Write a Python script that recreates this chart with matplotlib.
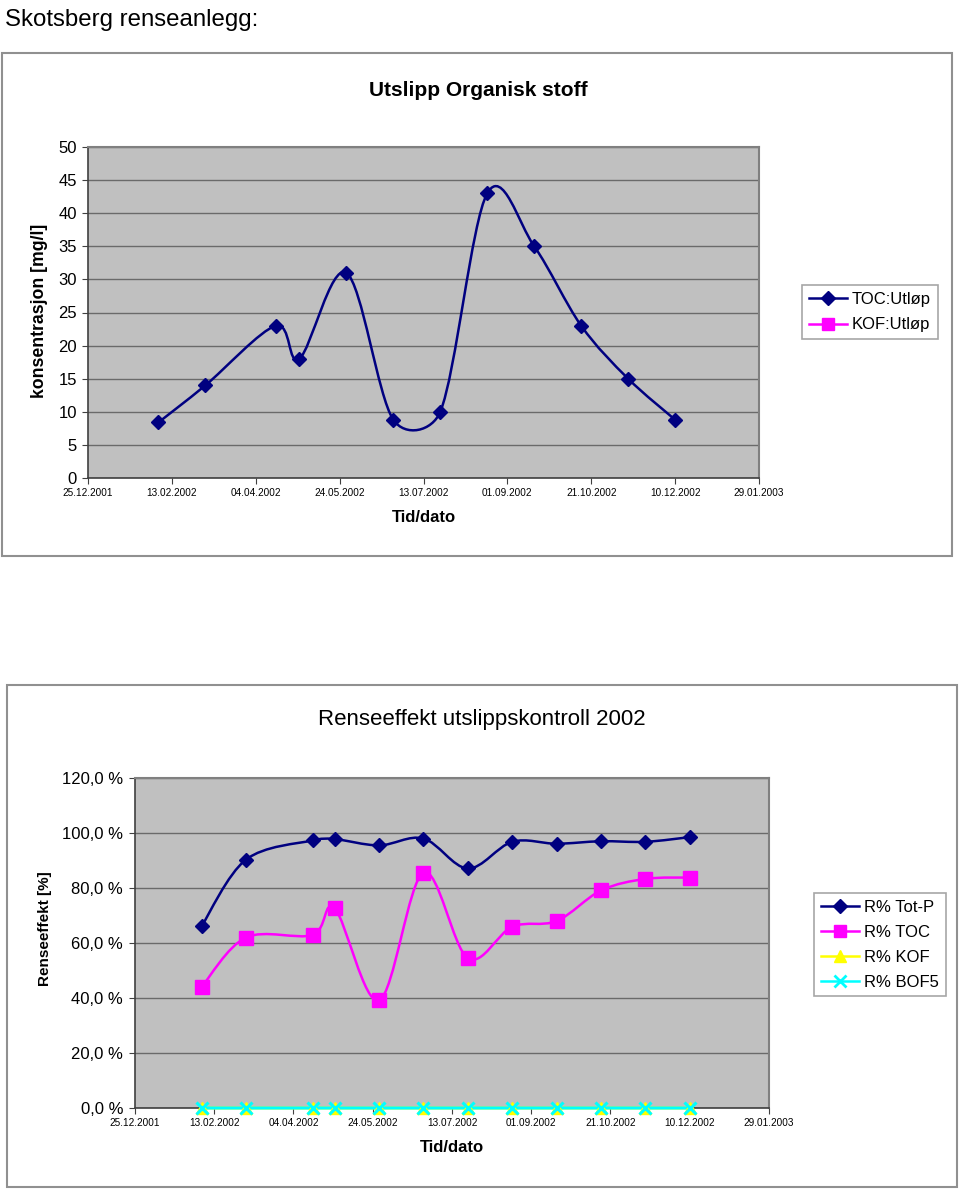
import matplotlib
matplotlib.use("Agg")
import matplotlib.pyplot as plt
import matplotlib.dates as mdates
from matplotlib.path import Path
from matplotlib.patches import PathPatch, Rectangle
from matplotlib.lines import Line2D
import numpy as np
import datetime as dt

plt.rcParams['font.family'] = ['Liberation Sans', 'DejaVu Sans']

# ---------------- data ----------------
dates = ["2002-02-05", "2002-03-05", "2002-04-16", "2002-04-30", "2002-05-28",
         "2002-06-25", "2002-07-23", "2002-08-20", "2002-09-17", "2002-10-15",
         "2002-11-12", "2002-12-10"]
toc_utlop = [8.4, 14.0, 23.0, 18.0, 31.0, 8.8, 10.0, 43.0, 35.0, 23.0, 15.0, 8.8]

r_totp = [66.1, 90.3, 97.3, 97.8, 95.5, 98.0, 87.1, 96.8, 96.1, 97.0, 96.8, 98.5]
r_toc = [44.0, 62.0, 62.9, 72.6, 39.1, 85.6, 54.5, 65.9, 68.0, 79.1, 83.3, 83.8]
r_kof = [0.0] * 12
r_bof5 = [0.0] * 12

tick_dates = ["2001-12-25", "2002-02-13", "2002-04-04", "2002-05-24", "2002-07-13",
              "2002-09-01", "2002-10-21", "2002-12-10", "2003-01-29"]
top_yticks = [0, 5, 10, 15, 20, 25, 30, 35, 40, 45, 50]
bot_yticks = [0, 20, 40, 60, 80, 100, 120]

NAVY = "#000080"
MAGENTA = "#FF00FF"
YELLOW = "#FFFF00"
CYAN = "#00FFFF"
PLOTBG = "#C0C0C0"

xd = mdates.date2num([dt.datetime.strptime(d, "%Y-%m-%d") for d in dates])
xt = mdates.date2num([dt.datetime.strptime(d, "%Y-%m-%d") for d in tick_dates])
xtl = [dt.datetime.strptime(d, "%Y-%m-%d").strftime("%d.%m.%Y") for d in tick_dates]


def _clamp(v, limit):
    ln = np.hypot(*v)
    if ln > limit and ln > 0:
        return v * (limit / ln)
    return v


def smooth_path(ax, x, y, r=0.45):
    # Excel-like smoothing: Catmull-Rom Bezier segments in screen space,
    # with control-arm length limited relative to the segment length.
    pts = ax.transData.transform(np.column_stack([x, y]).astype(float))
    n = len(pts)
    verts = [pts[0]]
    codes = [Path.MOVETO]
    for i in range(n - 1):
        p0 = pts[i - 1] if i > 0 else pts[i]
        p1 = pts[i]
        p2 = pts[i + 1]
        p3 = pts[i + 2] if i + 2 < n else pts[i + 1]
        d12 = np.hypot(*(p2 - p1))
        t1 = _clamp((p2 - p0) / 6.0, r * d12)
        t2 = _clamp((p3 - p1) / 6.0, r * d12)
        verts += [p1 + t1, p2 - t2, p2]
        codes += [Path.CURVE4] * 3
    verts = ax.transData.inverted().transform(np.array(verts))
    return Path(verts, codes)


def add_smooth(ax, x, y, color, lw=1.8, z=2):
    patch = PathPatch(smooth_path(ax, x, y), facecolor='none', edgecolor=color,
                      lw=lw, transform=ax.transData, zorder=z, clip_on=False)
    ax.add_patch(patch)


W, H = 960, 1191
fig = plt.figure(figsize=(W / 100, H / 100), dpi=100)


def fx(px):
    return px / W


def fy(py):
    return 1 - py / H


# page title
fig.text(fx(5), fy(20), "Skotsberg renseanlegg:", fontsize=17.3, ha='left', va='center')

# outer chart frames
for (x0, y0, x1, y1) in [(2, 53, 952, 556), (7, 685, 957, 1187)]:
    fig.add_artist(Rectangle((fx(x0), fy(y1)), fx(x1 - x0), (y1 - y0) / H,
                             transform=fig.transFigure, facecolor='white',
                             edgecolor='#909090', lw=1.5, zorder=0))


def style_axes(ax):
    ax.set_facecolor(PLOTBG)
    for s in ['top', 'right']:
        ax.spines[s].set_color('#808080')
        ax.spines[s].set_linewidth(1.5)
    for s in ['left', 'bottom']:
        ax.spines[s].set_color('#404040')
        ax.spines[s].set_linewidth(1.2)
    ax.grid(axis='y', color='#6a6a6a', lw=1.0)
    ax.set_axisbelow(True)
    ax.set_xlim(xt[0], xt[-1])
    ax.set_xticks(xt)
    ax.set_xticklabels(xtl, fontsize=7.2)
    ax.tick_params(axis='x', length=4, color='#404040', pad=3)
    ax.tick_params(axis='y', length=4, color='#404040', pad=4)


# ---------------- top chart ----------------
ax1 = fig.add_axes([fx(88), fy(478), fx(759 - 88), (478 - 147) / H])
style_axes(ax1)
ax1.set_ylim(0, 50)
ax1.set_yticks(top_yticks)
ax1.set_yticklabels([str(v) for v in top_yticks], fontsize=12)
add_smooth(ax1, xd, toc_utlop, NAVY)
ax1.plot(xd, toc_utlop, linestyle='none', marker='D', markersize=7.5,
         color=NAVY, zorder=3, clip_on=False)
ax1.set_ylabel("konsentrasjon [mg/l]", fontsize=12.7, fontweight='bold')
ax1.yaxis.set_label_coords((40 - 88) / 671, (478 - 311) / 331)
ax1.yaxis.label.set_va('center')
ax1.set_xlabel("Tid/dato", fontsize=12, fontweight='bold')
ax1.xaxis.set_label_coords(0.5, -(517 - 478) / 331)
ax1.xaxis.label.set_va('center')
fig.text(fx(478), fy(90), "Utslipp Organisk stoff", fontsize=15,
         fontweight='bold', ha='center', va='center')

h1 = [Line2D([], [], color=NAVY, lw=1.8, marker='D', markersize=7.5),
      Line2D([], [], color=MAGENTA, lw=1.8, marker='s', markersize=8.5)]
leg1 = fig.legend(h1, ["TOC:Utløp", "KOF:Utløp"], loc='upper left',
                  bbox_to_anchor=(fx(802), fy(285)), borderaxespad=0,
                  fontsize=12, frameon=True, fancybox=False, numpoints=1,
                  handlelength=2.3, handletextpad=0.3, borderpad=0.4,
                  labelspacing=0.65)
leg1.get_frame().set_edgecolor('#909090')
leg1.get_frame().set_linewidth(1.2)

# ---------------- bottom chart ----------------
ax2 = fig.add_axes([fx(135), fy(1108), fx(769 - 135), (1108 - 778) / H])
style_axes(ax2)
ax2.set_ylim(0, 120)
ax2.set_yticks(bot_yticks)
ax2.set_yticklabels([f"{v:.1f} %".replace('.', ',') for v in bot_yticks], fontsize=12)
ax2.tick_params(axis='y', pad=4.5)

add_smooth(ax2, xd, r_totp, NAVY, z=3)
add_smooth(ax2, xd, r_toc, MAGENTA, z=3)
add_smooth(ax2, xd, r_kof, YELLOW, lw=2.2, z=3)
add_smooth(ax2, xd, r_bof5, CYAN, lw=2.2, z=3.1)
ax2.plot(xd, r_totp, linestyle='none', marker='D', markersize=7.5,
         color=NAVY, zorder=4, clip_on=False)
ax2.plot(xd, r_toc, linestyle='none', marker='s', markersize=9.5,
         color=MAGENTA, zorder=4, clip_on=False)
ax2.plot(xd, r_kof, linestyle='none', marker='^', markersize=9,
         color=YELLOW, zorder=4, clip_on=False)
ax2.plot(xd, r_bof5, linestyle='none', marker='x', markersize=9, mew=2.2,
         color=CYAN, zorder=5, clip_on=False)

ax2.set_ylabel("Renseeffekt [%]", fontsize=11, fontweight='bold')
ax2.yaxis.set_label_coords((45 - 135) / 634, (1108 - 929) / 330)
ax2.yaxis.label.set_va('center')
ax2.set_xlabel("Tid/dato", fontsize=12, fontweight='bold')
ax2.xaxis.set_label_coords(0.5, -(1147 - 1108) / 330)
ax2.xaxis.label.set_va('center')
fig.text(fx(482), fy(719), "Renseeffekt utslippskontroll 2002", fontsize=16,
         ha='center', va='center')

h2 = [Line2D([], [], color=NAVY, lw=1.8, marker='D', markersize=7.5),
      Line2D([], [], color=MAGENTA, lw=1.8, marker='s', markersize=8.5),
      Line2D([], [], color=YELLOW, lw=1.8, marker='^', markersize=8.5),
      Line2D([], [], color=CYAN, lw=1.8, marker='x', markersize=8.5, mew=2)]
leg2 = fig.legend(h2, ["R% Tot-P", "R% TOC", "R% KOF", "R% BOF5"], loc='upper left',
                  bbox_to_anchor=(fx(814), fy(893)), borderaxespad=0,
                  fontsize=12, frameon=True, fancybox=False, numpoints=1,
                  handlelength=2.3, handletextpad=0.3, borderpad=0.4,
                  labelspacing=0.6)
leg2.get_frame().set_edgecolor('#909090')
leg2.get_frame().set_linewidth(1.2)

fig.savefig("out.png", dpi=100, facecolor='white')
